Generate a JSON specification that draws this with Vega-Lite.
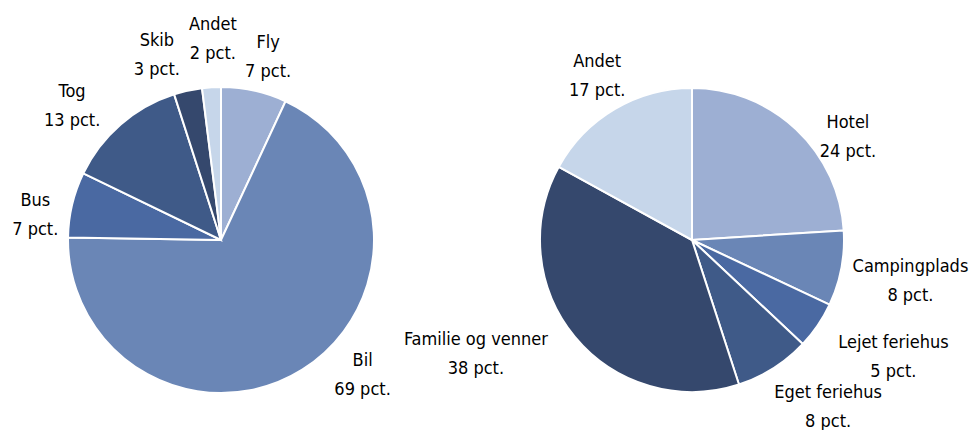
{
  "$schema": "https://vega.github.io/schema/vega-lite/v6.json",
  "autosize": {"type": "pad"},
  "padding": 0,
  "bounds": "flush",
  "background": "white",
  "config": {"view": {"stroke": null}, "text": {"font": "DejaVu Sans Condensed, sans-serif", "fontSize": 18, "fill": "#000000", "lineBreak": "\n", "lineHeight": 29, "baseline": "middle", "align": "center"}},
  "datasets": {
    "transport": [
      {"name": "Fly", "label": "Fly\n7 pct.", "value": 7, "idx": 1},
      {"name": "Bil", "label": "Bil\n69 pct.", "value": 69, "idx": 2},
      {"name": "Bus", "label": "Bus\n7 pct.", "value": 7, "idx": 3},
      {"name": "Tog", "label": "Tog\n13 pct.", "value": 13, "idx": 4},
      {"name": "Skib", "label": "Skib\n3 pct.", "value": 3, "idx": 5},
      {"name": "Andet", "label": "Andet\n2 pct.", "value": 2, "idx": 6}
    ],
    "lodging": [
      {"name": "Hotel", "label": "Hotel\n24 pct.", "value": 24, "idx": 1},
      {"name": "Campingplads", "label": "Campingplads\n8 pct.", "value": 8, "idx": 2},
      {"name": "Lejet feriehus", "label": "Lejet feriehus\n5 pct.", "value": 5, "idx": 3},
      {"name": "Eget feriehus", "label": "Eget feriehus\n8 pct.", "value": 8, "idx": 4},
      {"name": "Familie og venner", "label": "Familie og venner\n38 pct.", "value": 38, "idx": 5},
      {"name": "Andet", "label": "Andet\n17 pct.", "value": 17, "idx": 6}
    ]
  },
  "spacing": 30,
  "hconcat": [
    {
      "width": 442,
      "height": 480,
      "data": {"name": "transport"},
      "encoding": {
        "theta": {"field": "value", "type": "quantitative", "stack": true},
        "order": {"field": "idx", "type": "quantitative"}
      },
      "layer": [
        {
          "mark": {"type": "arc", "outerRadius": 153, "stroke": "white", "strokeWidth": 2},
          "encoding": {
            "color": {"field": "idx", "type": "ordinal", "legend": null,
              "scale": {"domain": [1, 2, 3, 4, 5, 6], "range": ["#9DAFD3", "#6A86B6", "#4A69A2", "#3F5A88", "#35486D", "#C6D6EA"]}}
          }
        },
        {
          "mark": {"type": "text", "radius": 195,
            "dx": {"expr": "[5, 38, 4, -21, -22, 4][datum.idx - 1]"},
            "dy": {"expr": "[-7, -44, 6, -1, -9, -20][datum.idx - 1]"}},
          "encoding": {"text": {"field": "label"}}
        }
      ]
    },
    {
      "width": 440,
      "height": 480,
      "data": {"name": "lodging"},
      "encoding": {
        "theta": {"field": "value", "type": "quantitative", "stack": true},
        "order": {"field": "idx", "type": "quantitative"}
      },
      "layer": [
        {
          "mark": {"type": "arc", "outerRadius": 152, "stroke": "white", "strokeWidth": 2},
          "encoding": {
            "color": {"field": "idx", "type": "ordinal", "legend": null,
              "scale": {"domain": [1, 2, 3, 4, 5, 6], "range": ["#9DAFD3", "#6A86B6", "#4A69A2", "#3F5A88", "#35486D", "#C6D6EA"]}}
          }
        },
        {
          "mark": {"type": "text", "radius": 200,
            "dx": {"expr": "[19, 22, 36, 29, -62, 7][datum.idx - 1]"},
            "dy": {"expr": "[29, -10, -9, -16, -27, -6][datum.idx - 1]"}},
          "encoding": {"text": {"field": "label"}}
        }
      ]
    }
  ]
}
